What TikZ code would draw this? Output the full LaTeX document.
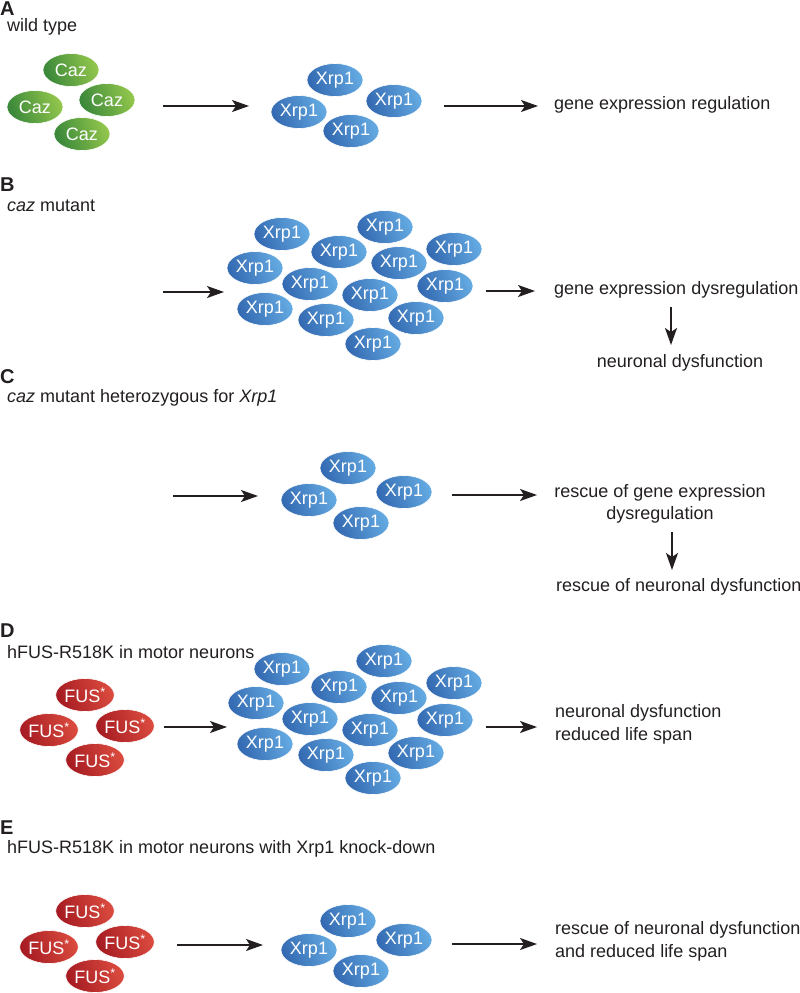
\documentclass[tikz,border=0pt]{standalone}
\usepackage{fontspec}
\setmainfont{Liberation Sans}
\usetikzlibrary{shapes.geometric,arrows.meta}
\definecolor{ink}{RGB}{35,31,32}
\definecolor{xdark}{RGB}{52,106,178}
\definecolor{xlight}{RGB}{100,170,226}
\definecolor{gdark}{RGB}{58,136,58}
\definecolor{glight}{RGB}{146,198,76}
\definecolor{rdark}{RGB}{166,28,34}
\definecolor{rlight}{RGB}{218,74,62}
\tikzset{
  txt/.style={font=\fontsize{18}{22.5}\selectfont, text=ink, inner sep=0pt},
  lbl/.style={font=\fontsize{20}{24}\selectfont\bfseries, text=ink, inner sep=0pt, anchor=west},
  prot/.style={ellipse, minimum width=56pt, minimum height=33pt, inner sep=0pt,
    text=white, font=\fontsize{18}{20}\selectfont, draw=white, line width=0.6pt},
  xrp/.style={prot, left color=xdark, right color=xlight, shading angle=110},
  caz/.style={prot, left color=gdark, right color=glight, shading angle=110},
  fus/.style={prot, left color=rdark, right color=rlight, shading angle=110},
  arr/.style={draw=ink, line width=1.5pt, -{Stealth[length=17pt,width=12pt,inset=4pt]}}
}
\begin{document}
\begin{tikzpicture}[x=1pt,y=-1pt]
\useasboundingbox (0,0) rectangle (800,993);

% ---------------- A ----------------
\node[lbl] (LA) at (0,9) {A};
\node[txt,anchor=west] (TA) at (7,27) {wild type};
\node[caz] (ca1) at (71,70) {Caz};
\node[caz] (ca2) at (35,107) {Caz};
\node[caz] (ca3) at (107,100) {Caz};
\node[caz] (ca4) at (82,134) {Caz};
\node[xrp] (xa1) at (335,80) {Xrp1};
\node[xrp] (xa2) at (299,112) {Xrp1};
\node[xrp] (xa3) at (394,101) {Xrp1};
\node[xrp] (xa4) at (351,131) {Xrp1};
\node[txt,anchor=west] (rA) at (554,105) {gene expression regulation};
\coordinate (a1s) at (163,106); \coordinate (a1e) at (249,106);
\coordinate (a2s) at (444,106); \coordinate (a2e) at (538,106);
\draw[arr] (a1s) -- (a1e);
\draw[arr] (a2s) -- (a2e);

% ---------------- B ----------------
\node[lbl] (LB) at (0,185) {B};
\node[txt,anchor=west] (TB) at (7,206) {\textit{caz} mutant};
\foreach \n/\x/\y in {1/282/234,2/385/227,3/339/252,4/454/249,5/399/263,6/255/268,7/310/284,8/445/286,9/370/295,10/265/309,11/326/320,12/416/318,13/373/344}
  \node[xrp] (xb\n) at (\x,\y) {Xrp1};
\node[txt,anchor=west] (rB1) at (554,290) {gene expression dysregulation};
\node[txt] (rB2) at (680,363) {neuronal dysfunction};
\coordinate (b1s) at (163,292); \coordinate (b1e) at (224,292);
\coordinate (b2s) at (486,291); \coordinate (b2e) at (535,291);
\coordinate (b3s) at (671,307); \coordinate (b3e) at (671,345);
\draw[arr] (b1s) -- (b1e);
\draw[arr] (b2s) -- (b2e);
\draw[arr] (b3s) -- (b3e);

% ---------------- C ----------------
\node[lbl] (LC) at (0,377) {C};
\node[txt,anchor=west] (TC) at (7,398) {\textit{caz} mutant heterozygous for \textit{Xrp1}};
\node[xrp] (xc1) at (348,468) {Xrp1};
\node[xrp] (xc2) at (309,500) {Xrp1};
\node[xrp] (xc3) at (404,492) {Xrp1};
\node[xrp] (xc4) at (361,523) {Xrp1};
\node[txt,align=center] (rC1) at (660,504) {rescue of gene expression\\dysregulation};
\node[txt,anchor=west] (rC2) at (556,587) {rescue of neuronal dysfunction};
\coordinate (c1s) at (173,496); \coordinate (c1e) at (258,496);
\coordinate (c2s) at (452,495); \coordinate (c2e) at (537,495);
\coordinate (c3s) at (672,532); \coordinate (c3e) at (672,570);
\draw[arr] (c1s) -- (c1e);
\draw[arr] (c2s) -- (c2e);
\draw[arr] (c3s) -- (c3e);

% ---------------- D ----------------
\node[lbl] (LD) at (0,631) {D};
\node[txt,anchor=west] (TD) at (7,652) {hFUS-R518K in motor neurons};
\node[fus] (fd1) at (85,695) {FUS\textsuperscript{*}};
\node[fus] (fd2) at (49,730) {FUS\textsuperscript{*}};
\node[fus] (fd3) at (125,726) {FUS\textsuperscript{*}};
\node[fus] (fd4) at (95,760) {FUS\textsuperscript{*}};
\foreach \n/\x/\y in {1/282/669,2/384/661,3/339/687,4/454/683,5/399/698,6/256/703,7/310/719,8/445/720,9/370/730,10/265/744,11/326/755,12/416/753,13/373/778}
  \node[xrp] (xd\n) at (\x,\y) {Xrp1};
\node[txt,align=left,anchor=west] (rD) at (555,724.5) {neuronal dysfunction\\reduced life span};
\coordinate (d1s) at (164,727); \coordinate (d1e) at (227,727);
\coordinate (d2s) at (486,727); \coordinate (d2e) at (537,727);
\draw[arr] (d1s) -- (d1e);
\draw[arr] (d2s) -- (d2e);

% ---------------- E ----------------
\node[lbl] (LE) at (0,828) {E};
\node[txt,anchor=west] (TE) at (7,849) {hFUS-R518K in motor neurons with Xrp1 knock-down};
\node[fus] (fe1) at (85,911) {FUS\textsuperscript{*}};
\node[fus] (fe2) at (49,947) {FUS\textsuperscript{*}};
\node[fus] (fe3) at (125,942) {FUS\textsuperscript{*}};
\node[fus] (fe4) at (95,976) {FUS\textsuperscript{*}};
\node[xrp] (xe1) at (348,921) {Xrp1};
\node[xrp] (xe2) at (309,950) {Xrp1};
\node[xrp] (xe3) at (404,940) {Xrp1};
\node[xrp] (xe4) at (361,971) {Xrp1};
\node[txt,align=left,anchor=west] (rE) at (555,941.5) {rescue of neuronal dysfunction\\and reduced life span};
\coordinate (e1s) at (177,945); \coordinate (e1e) at (263,945);
\coordinate (e2s) at (452,944); \coordinate (e2e) at (537,944);
\draw[arr] (e1s) -- (e1e);
\draw[arr] (e2s) -- (e2e);
\end{tikzpicture}
\end{document}
